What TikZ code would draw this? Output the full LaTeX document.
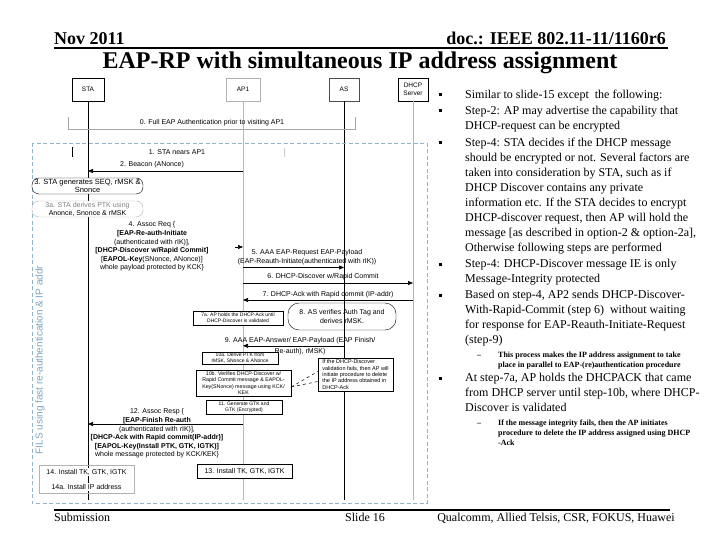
\documentclass[tikz,border=0pt]{standalone}
\usepackage{fontspec}
\setmainfont{Liberation Serif}
\setsansfont{Liberation Sans}
\usetikzlibrary{arrows.meta,positioning}
\definecolor{framecol}{HTML}{93B4C6}
\definecolor{labelcol}{HTML}{7DA3BE}
\newcommand{\fsz}[2]{\fontsize{#1}{#2}\selectfont}

\begin{document}
\begin{tikzpicture}[x=1pt,y=-1pt,
  lifebox/.style={draw,fill=white,minimum width=32pt,minimum height=23pt,inner sep=1pt,align=center,font=\sffamily\fsz{6.5}{7.5}},
  lifeline/.style={line width=0.6pt},
  msg/.style={line width=0.6pt,-{Triangle[length=5pt,width=4pt]}},
  msgtext/.style={inner sep=0pt,align=center,font=\sffamily\fsz{7}{8.6}},
  smallbox/.style={draw,fill=white,inner sep=0pt,align=center,font=\sffamily\fsz{5}{6}},
  procbox/.style={draw,rounded corners=7pt,inner sep=0pt,align=center,font=\sffamily\fsz{7.5}{8.5}},
  body/.style={anchor=base west,inner sep=0pt,align=left,font=\fsz{12}{15}},
  subbody/.style={anchor=base west,inner sep=0pt,align=left,font=\bfseries\fsz{8}{10}}]
  \useasboundingbox (0,0) rectangle (720,540);

  % header and footer
  \node[anchor=base west,inner sep=0pt,font=\bfseries\fsz{18}{20}] (month) at (54,44.5) {Nov 2011};
  \node[anchor=base east,inner sep=0pt,font=\bfseries\fsz{18}{20}] (docnr) at (666,44.5) {doc.: IEEE 802.11-11/1160r6};
  \draw[line width=2.5pt] (54,48) -- (668,48);
  \node[anchor=base,inner sep=0pt,font=\bfseries\fsz{24}{26}] (title) at (360,69) {EAP-RP with simultaneous IP address assignment};
  \draw[line width=2pt] (54,509.5) -- (670,509.5);
  \node[anchor=base west,inner sep=0pt,font=\fsz{12}{14}] (submission) at (54,521.5) {Submission};
  \node[anchor=base west,inner sep=0pt,font=\fsz{12}{14}] (slidenr) at (345,521.5) {Slide 16};
  \node[anchor=base east,inner sep=0pt,font=\fsz{12}{14}] (authors) at (675,521.5) {Qualcomm, Allied Telsis, CSR, FOKUS, Huawei};

  % entities and lifelines
  \node[lifebox] (sta) at (88,89.5) {STA};
  \node[lifebox,draw=gray!60,minimum width=34pt] (ap) at (243,89.5) {AP1};
  \node[lifebox,draw=black!70,minimum width=30pt] (as) at (344,89.5) {AS};
  \node[lifebox,minimum width=30pt] (dhcp) at (413,89.5) {DHCP\\Server};
  \coordinate (bottom) at (0,500);
  \draw[lifeline] (sta.south) -- (sta.south |- bottom);
  \draw[lifeline,gray!55] (ap.south) -- (ap.south |- bottom);
  \draw[lifeline] (as.south) -- (as.south |- bottom);
  \draw[lifeline,gray!60] (dhcp.south) -- (dhcp.south |- bottom);

  % step 0
  \draw[gray!70,line width=0.6pt] (68,117) -- (68,129) -- (355,129) -- (355,117);
  \node[msgtext] (s0) at (212,122.7) {0. Full EAP Authentication prior to visiting AP1};

  % FILS frame
  \draw[framecol,line width=0.8pt,dash pattern=on 4pt off 2.5pt] (32,143) rectangle (427,503);
  \node[rotate=90,inner sep=0pt,text=labelcol,font=\sffamily\fsz{10}{12}] (filslabel) at (40,360) {FILS using fast re-authentication \& IP addr};
  \draw[line width=0.6pt] (72,147) -- (72,157);
  \draw[gray!40] (284,148) -- (284,157);

  % steps 1-3a
  \node[msgtext] (s1) at (177,152) {1. STA nears AP1};
  \node[msgtext] (s2) at (152,165) {2. Beacon (ANonce)};
  \coordinate (y2) at (0,171);
  \draw[msg] (ap |- y2) -- (sta |- y2);
  \node[procbox,fill=white,minimum width=111pt,minimum height=16pt] (s3) at (87.5,186) {3. STA generates SEQ, rMSK \&\\Snonce};
  \node[procbox,draw=gray!60,fill=white,minimum width=111pt,minimum height=16pt,font=\sffamily\fsz{7}{8}] (s3a) at (87.5,209) {\textcolor{gray}{3a. STA derives PTK using}\\Anonce, Snonce \& rMSK};

  % step 4
  \node[msgtext] (s4) at (152,246.5) {4. Assoc Req \{\\\textbf{[EAP-Re-auth-Initiate}\\(authenticated with rIK)],\\\textbf{[DHCP-Discover w/Rapid Commit]}\\{[}\textbf{EAPOL-Key}(SNonce, ANonce)]\\whole payload protected by KCK\}};
  \coordinate (y4) at (235,247);
  \draw[msg] (y4) -- (y4 -| ap);

  % steps 5-7
  \node[msgtext,font=\sffamily\fsz{7}{9}] (s5) at (307,257) {5. AAA EAP-Request EAP-Payload\\(EAP-Reauth-Initiate(authenticated with rIK))};
  \coordinate (y5) at (0,267.5);
  \draw[msg] (ap |- y5) -- (as |- y5);
  \node[msgtext] (s6) at (323,277) {6. DHCP-Discover w/Rapid Commit};
  \coordinate (y6) at (0,283);
  \draw[msg] (ap |- y6) -- (dhcp |- y6);
  \node[msgtext] (s7) at (328,295) {7. DHCP-Ack with Rapid commit (IP-addr)};
  \coordinate (y7) at (0,300);
  \draw[msg] (dhcp |- y7) -- (ap |- y7);
  \node[smallbox,minimum width=90pt,minimum height=14pt] (s7a) at (238,318) {7a. AP holds the DHCP-Ack until\\DHCP-Discover is validated};
  \node[procbox,rounded corners=11pt,minimum width=108pt,minimum height=27pt,font=\sffamily\fsz{7}{9}] (s8) at (342,316.5) {8. AS verifies Auth Tag and\\derives rMSK.};

  % steps 9-11
  \node[msgtext,font=\sffamily\fsz{7}{10.5}] (s9) at (300,346) {9. AAA EAP-Answer/ EAP-Payload (EAP Finish/\\Re-auth), rMSK)};
  \coordinate (y9) at (0,345.8);
  \draw[msg] (as |- y9) -- (ap |- y9);
  \node[smallbox,minimum width=76pt,minimum height=12pt] (s10a) at (240,358) {10a. Derive PTK from\\rMSK, SNonce \& ANonce};
  \node[smallbox,minimum width=95pt,minimum height=26pt,font=\sffamily\fsz{5.3}{6.3}] (s10b) at (243.5,383) {10b. Verifies DHCP-Discover w/\\Rapid Commit message \& EAPOL-\\Key(SNonce) message using KCK/\\KEK};
  \node[smallbox,minimum width=75pt,minimum height=33pt,align=left,font=\sffamily\fsz{5.5}{6.3}] (note) at (355.5,374.5) {If the DHCP-Discover\\validation fails, then AP will\\initiate procedure to delete\\the IP address obtained in\\DHCP-Ack};
  \draw[dashed,line width=0.5pt] ([yshift=-4pt]s10b.east) -- ([yshift=3pt]note.west);
  \draw[dashed,line width=0.5pt] ([yshift=-4pt]s10b.east) -- ([yshift=-7pt]note.west);
  \node[smallbox,minimum width=76pt,minimum height=14pt] (s11) at (244,407) {11. Generate GTK and\\GTK (Encrypted)};

  % steps 12-14
  \node[msgtext] (s12) at (157,433.5) {12. Assoc Resp \{\\\textbf{[EAP-Finish Re-auth}\\(authenticated with rIK)],\\\textbf{[DHCP-Ack with Rapid commit(IP-addr)]}\\\textbf{[EAPOL-Key(Install PTK, GTK, IGTK)]}\\whole message protected by KCK/KEK\}};
  \coordinate (y12) at (0,424);
  \draw[msg] (ap |- y12) -- (sta |- y12);
  \node[smallbox,minimum width=95pt,minimum height=14pt,font=\sffamily\fsz{7}{8}] (s13) at (244.5,471) {13. Install TK, GTK, IGTK};
  \node[draw=gray!60,minimum width=95pt,minimum height=28pt] (s14) at (86.5,479) {};
  \node[msgtext,fill=white,inner sep=1pt] (s14t) at (86.5,472) {14. Install TK, GTK, IGTK};
  \node[msgtext,fill=white,inner sep=1pt] (s14a) at (86.5,487) {14a. Install IP address};

  % bullet text (base anchor = last line)
  \foreach \by in {95,111,143,264,295,378}
    \fill (438.5,\by-1.5) rectangle ++(3,3);
  \node[body] (p1) at (465,98.8) {Similar to slide-15 except\ \ the following:};
  \node[body] (p2) at (465,129.8) {Step-2: AP may advertise the capability that\\DHCP-request can be encrypted};
  \node[body] (p3) at (465,251.8) {Step-4: STA decides if the DHCP message\\should be encrypted or not. Several factors are\\taken into consideration by STA, such as if\\DHCP Discover contains any private\\information etc. If the STA decides to encrypt\\DHCP-discover request, then AP will hold the\\message [as described in option-2 \& option-2a],\\Otherwise following steps are performed};
  \node[body] (p4) at (465,282.8) {Step-4: DHCP-Discover message IE is only\\Message-Integrity protected};
  \node[body] (p5) at (465,343.8) {Based on step-4, AP2 sends DHCP-Discover-\\With-Rapid-Commit (step 6)\ \ without waiting\\for response for EAP-Reauth-Initiate-Request\\(step-9)};
  \node[subbody] (d1) at (477,357) {--};
  \node[subbody] (q1) at (498,367) {This process makes the IP address assignment to take\\place in parallel to EAP-(re)authentication procedure};
  \node[body] (p6) at (465,411.8) {At step-7a, AP holds the DHCPACK that came\\from DHCP server until step-10b, where DHCP-\\Discover is validated};
  \node[subbody] (d2) at (477,425) {--};
  \node[subbody] (q2) at (498,445) {If the message integrity fails, then the AP initiates\\procedure to delete the IP address assigned using DHCP\\-Ack};
\end{tikzpicture}
\end{document}
